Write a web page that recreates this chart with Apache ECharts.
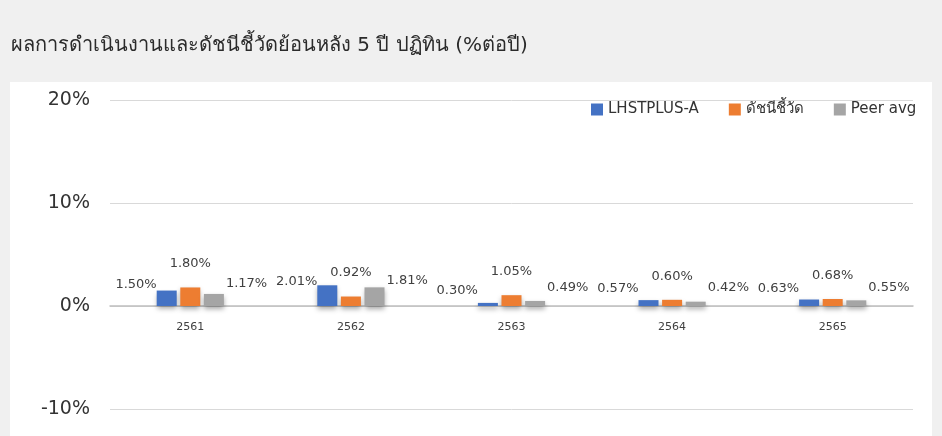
<!DOCTYPE html>
<html>
<head>
<meta charset="utf-8">
<script src="https://cdn.jsdelivr.net/npm/echarts@6/dist/echarts.min.js"></script>
<style>
	html, body { margin: 0; padding: 0; background: #f0f0f0; }
	#chart { width: 942px; height: 436px; }
</style>
</head>
<body>
<div id="chart"></div>
<script>
	var years = ['2561', '2562', '2563', '2564', '2565'];
	var fundVals = [1.50, 2.01, 0.30, 0.57, 0.63];
	var benchVals = [1.80, 0.92, 1.05, 0.60, 0.68];
	var peerVals = [1.17, 1.81, 0.49, 0.42, 0.55];
	var seriesNames = ['LHSTPLUS-A', 'ดัชนีชี้วัด', 'Peer avg'];
	var colors = ['#4472c4', '#ed7d31', '#a5a5a5'];

	var myChart = echarts.init(document.getElementById('chart'));

	var labelFont = {
		fontFamily: 'DejaVu Sans',
		fontSize: 13,
		color: '#404040',
		formatter: function(p) {
			return p.value.toFixed(2) + '%';
		}
	};

	function makeSeries(name, data, label) {
		return {
			type: 'bar',
			name: name,
			data: data,
			barWidth: 20,
			barGap: '18%',
			itemStyle: {
				shadowColor: 'rgba(0,0,0,0.35)',
				shadowBlur: 5,
				shadowOffsetY: 3
			},
			label: Object.assign({ show: true }, labelFont, label)
		};
	}

	var option = {
		animation: false,
		backgroundColor: '#f0f0f0',
		color: colors,
		graphic: [{
			type: 'rect',
			z: -10,
			shape: { x: 10, y: 82, width: 922, height: 360 },
			style: { fill: '#ffffff' }
		}],
		title: {
			text: 'ผลการดำเนินงานและดัชนีชี้วัดย้อนหลัง 5 ปี ปฏิทิน (%ต่อปี)',
			left: 6,
			top: 31,
			textStyle: {
				fontFamily: 'DejaVu Sans',
				fontSize: 20,
				fontWeight: 'normal',
				color: '#2b2b2b'
			}
		},
		legend: {
			left: 586,
			top: 97,
			icon: 'rect',
			itemWidth: 12,
			itemHeight: 12,
			itemGap: 30,
			textStyle: {
				fontFamily: 'DejaVu Sans',
				fontSize: 15,
				color: '#333333'
			},
			data: seriesNames
		},
		grid: {
			left: 110,
			right: 29,
			top: 100,
			bottom: 27
		},
		xAxis: {
			type: 'category',
			data: years,
			offset: -103,
			axisTick: { show: false },
			axisLine: {
				onZero: false,
				lineStyle: { color: '#bfbfbf', width: 1.5 }
			},
			axisLabel: {
				margin: 16,
				fontFamily: 'DejaVu Sans',
				fontSize: 11,
				color: '#404040'
			}
		},
		yAxis: {
			type: 'value',
			min: -10,
			max: 20,
			interval: 10,
			axisLine: { show: false },
			axisTick: { show: false },
			axisLabel: {
				margin: 20,
				formatter: '{value}%',
				fontFamily: 'DejaVu Sans',
				fontSize: 19,
				color: '#333333'
			},
			splitLine: {
				lineStyle: { color: '#d9d9d9' }
			}
		},
		series: [
			makeSeries(seriesNames[0], fundVals, { position: 'left', distance: 0, offset: [0, -14] }),
			makeSeries(seriesNames[1], benchVals, { position: 'top', distance: 5, offset: [0, -12] }),
			makeSeries(seriesNames[2], peerVals, { position: 'right', distance: 2, offset: [0, -16] })
		]
	};

	myChart.setOption(option);
</script>
</body>
</html>
